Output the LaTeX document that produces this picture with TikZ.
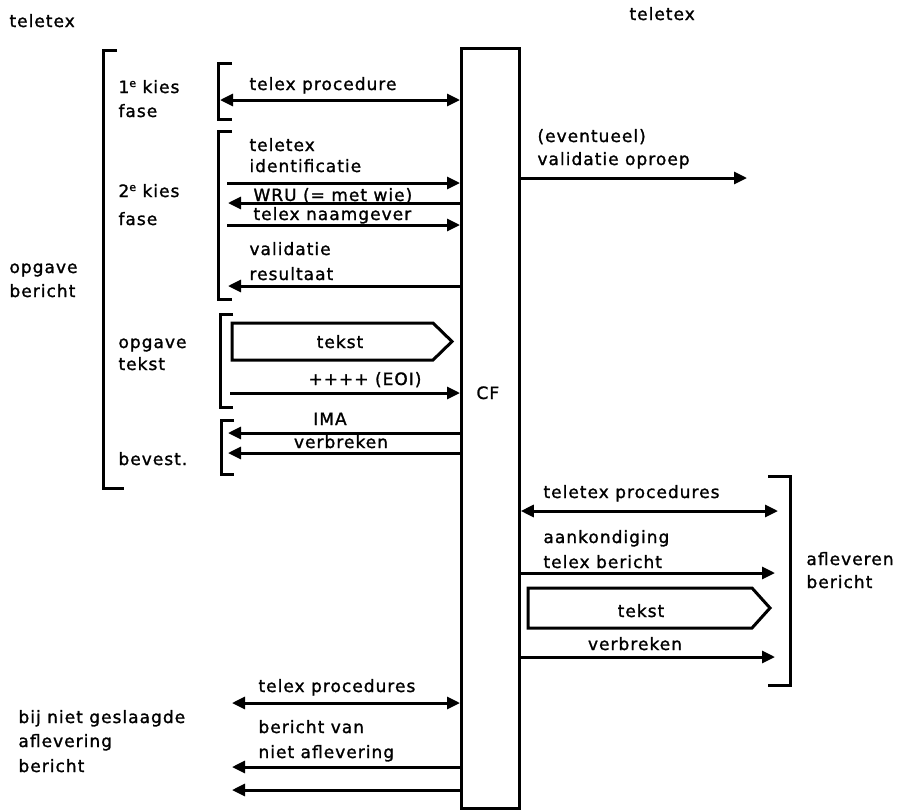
\documentclass[tikz,border=0pt]{standalone}
\usepackage{fontspec}
\setmainfont[LetterSpace=6,FakeBold=1.3]{DejaVu Sans}
\usetikzlibrary{arrows.meta}
\tikzset{
  lbl/.style={inner sep=0pt, anchor=base west},
  clbl/.style={inner sep=0pt, anchor=base},
  tip/.tip={Triangle[length=13pt,width=12pt]},
  arr/.style={-tip},
  darr/.style={tip-tip},
  brk/.style={line cap=butt},
}
\newcommand{\supe}{\raisebox{6pt}{\fontsize{11}{11}\selectfont e}}
\begin{document}
\begin{tikzpicture}[x=1pt,y=-1pt,line width=3pt,font=\fontsize{17}{20}\selectfont]
\useasboundingbox (0,0) rectangle (908,809);

% central box
\node[draw, line width=2.8pt, minimum width=58pt, minimum height=760pt, anchor=north west, inner sep=0pt] (cf) at (460,47) {};
\node[lbl] (cft) at (475,399) {CF};

% headers
\node[lbl] (tl) at (8,27) {teletex};
\node[lbl] (tr) at (628,20) {teletex};

% big left bracket
\draw[brk] (117,50) -- (103,50) -- (103,488) -- (124,488);
\node[lbl] (k1a) at (117,93) {1\supe\ kies};
\node[lbl] (k1b) at (117,117) {fase};
\node[lbl] (k2a) at (117,197) {2\supe\ kies};
\node[lbl] (k2b) at (117,225) {fase};
\node[lbl] (ob1) at (8,273) {opgave};
\node[lbl] (ob2) at (8,297) {bericht};
\node[lbl] (ot1) at (117,348) {opgave};
\node[lbl] (ot2) at (117,370) {tekst};
\node[lbl] (bev) at (117,465) {bevest.};

% small brackets
\draw[brk] (232,63) -- (218,63) -- (218,119) -- (232,119);
\draw[brk] (232,131) -- (218,131) -- (218,299) -- (232,299);
\draw[brk] (233,314) -- (220,314) -- (220,407) -- (233,407);
\draw[brk] (234,420) -- (221,420) -- (221,474) -- (234,474);

% 1e kies fase
\node[lbl] (tp) at (248,90) {telex procedure};
\coordinate (p1) at (220,100);
\draw[darr] (p1) -- (p1 -| cf.west);

% 2e kies fase
\node[lbl] (ti1) at (248,151) {teletex};
\node[lbl] (ti2) at (248,172) {identificatie};
\coordinate (p2) at (227,183);
\draw[arr] (p2) -- (p2 -| cf.west);
\node[lbl] (wru) at (252,201) {WRU (= met wie)};
\coordinate (p3) at (228,203);
\draw[arr] (p3 -| cf.west) -- (p3);
\node[lbl] (tn) at (252,220) {telex naamgever};
\coordinate (p4) at (227,225);
\draw[arr] (p4) -- (p4 -| cf.west);
\node[lbl] (vr1) at (248,255) {validatie};
\node[lbl] (vr2) at (248,280) {resultaat};
\coordinate (p5) at (228,286);
\draw[arr] (p5 -| cf.west) -- (p5);

% opgave tekst
\draw[line join=miter] (232,323) -- (433,323) -- (452,341.5) -- (433,360) -- (232,360) -- cycle;
\node[clbl] (tk1) at (340,348) {tekst};
\node[clbl] (eoi) at (365,385) {++++ (EOI)};
\coordinate (p6) at (230,393);
\draw[arr] (p6) -- (p6 -| cf.west);

% bevest
\node[clbl] (ima) at (330,425) {IMA};
\coordinate (p7) at (228,433);
\draw[arr] (p7 -| cf.west) -- (p7);
\node[clbl] (vb1) at (341,448) {verbreken};
\coordinate (p8) at (228,453);
\draw[arr] (p8 -| cf.west) -- (p8);

% validatie oproep
\node[lbl] (ev1) at (536,142) {(eventueel)};
\node[lbl] (ev2) at (536,165) {validatie oproep};
\coordinate (q1) at (747,178);
\draw[arr] (q1 -| cf.east) -- (q1);

% afleveren bericht
\draw[brk] (768,476) -- (790,476) -- (790,685) -- (768,685);
\node[lbl] (af1) at (805,565) {afleveren};
\node[lbl] (af2) at (805,588) {bericht};
\node[lbl] (tpp) at (542,498) {teletex procedures};
\coordinate (q2) at (778,511);
\draw[darr] (q2 -| cf.east) -- (q2);
\node[lbl] (ak1) at (542,543) {aankondiging};
\node[lbl] (ak2) at (542,568) {telex bericht};
\coordinate (q3) at (775,573);
\draw[arr] (q3 -| cf.east) -- (q3);
\draw[line join=miter] (528,588) -- (752,588) -- (770,608) -- (752,628) -- (528,628) -- cycle;
\node[clbl] (tk2) at (641,617) {tekst};
\node[clbl] (vb2) at (635,650) {verbreken};
\coordinate (q4) at (775,657);
\draw[arr] (q4 -| cf.east) -- (q4);

% niet geslaagde aflevering
\node[lbl] (tps) at (257,692) {telex procedures};
\coordinate (r1) at (232,703);
\draw[darr] (r1) -- (r1 -| cf.west);
\node[lbl] (ng1) at (17,723) {bij niet geslaagde};
\node[lbl] (ng2) at (17,747) {aflevering};
\node[lbl] (ng3) at (17,772) {bericht};
\node[lbl] (bv1) at (257,733) {bericht van};
\node[lbl] (bv2) at (257,758) {niet aflevering};
\coordinate (r2) at (232,767);
\draw[arr] (r2 -| cf.west) -- (r2);
\coordinate (r3) at (232,790);
\draw[arr] (r3 -| cf.west) -- (r3);
\end{tikzpicture}
\end{document}
